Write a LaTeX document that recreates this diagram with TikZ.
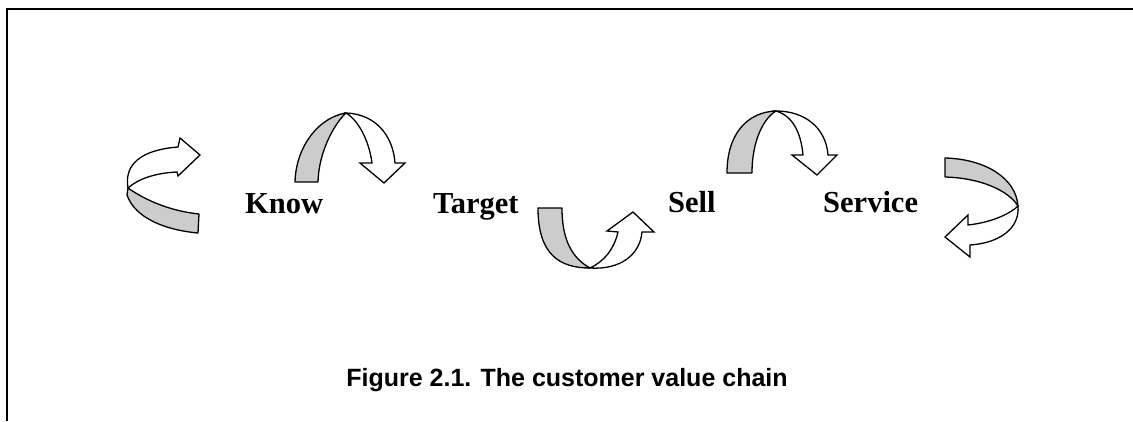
\documentclass[tikz,border=0pt]{standalone}
\usepackage{fontspec}
\setmainfont{Liberation Serif}
\newfontfamily\capfont{Liberation Sans}
\begin{document}
\begin{tikzpicture}[x=1pt,y=-1pt,
  band/.style={draw=black,line width=1.3pt,line join=round,fill=black!20},
  face/.style={draw=black,line width=1.3pt,line join=miter,fill=white},
  stage/.style={font=\fontsize{30.5}{32}\selectfont\bfseries,inner sep=0pt,anchor=base west},
  frameline/.style={line width=2pt}]
\useasboundingbox (0,0) rectangle (1133,421);
\fill[white] (0,0) rectangle (1133,421);

% frame: top and left rules
\coordinate (fTL) at (7,9);
\coordinate (fTR) at (1133,9);
\coordinate (fBL) at (7,421);
\draw[frameline] (fTR) -- (fTL) -- (fBL);

% stage labels
\node[stage] (know) at (245,213) {Know};
\node[stage] (target) at (433,213) {Target};
\node[stage] (sell) at (668,212) {Sell};
\node[stage] (service) at (823,212) {Service};

% caption
\node[font=\capfont\fontsize{25}{27}\selectfont\bfseries,inner sep=0pt,anchor=base]
  (caption) at (567,386) {Figure 2.1. The customer value chain};

% ribbon arrow left of Know (loops round the left, head to the right)
\path[band] (199,214) -- (198,233) .. controls (165,230) and (135,218) .. (127,195)
  -- (128,188) .. controls (145,200) and (170,211) .. (199,214) -- cycle;
\path[face] (128,188) .. controls (124,165) and (140,150) .. (178,147)
  -- (180,138) -- (200,155) -- (178,176) -- (177,172)
  .. controls (155,173) and (138,179) .. (128,188) -- cycle;

% ribbon arrow over Know (arches up, head down)
\path[band] (295,182) .. controls (296,145) and (320,117) .. (346,113)
  .. controls (337,121) and (319,148) .. (318,182) -- cycle;
\path[face] (346,113) .. controls (375,114) and (393,135) .. (395,163)
  -- (405,163) -- (384,183) -- (360,163) -- (372,163)
  .. controls (369,140) and (358,120) .. (346,113) -- cycle;

% ribbon arrow under Target (dips down, head up)
\path[band] (538,208) -- (562,208) .. controls (562,240) and (572,258) .. (590,268)
  .. controls (560,268) and (538,255) .. (538,208) -- cycle;
\path[face] (590,268) .. controls (620,270) and (640,255) .. (642,232)
  -- (654,232) -- (633,212) -- (607,231) -- (618,232)
  .. controls (614,250) and (603,262) .. (590,268) -- cycle;

% ribbon arrow over Sell (arches up, head down)
\path[band] (727,173) .. controls (727,133) and (748,112) .. (776,111)
  .. controls (764,118) and (752,140) .. (752,173) -- cycle;
\path[face] (776,111) .. controls (805,111) and (826,128) .. (828,155)
  -- (837,155) -- (817,175) -- (792,155) -- (803,155)
  .. controls (801,133) and (793,116) .. (776,111) -- cycle;

% ribbon arrow right of Service (loops round the right, head to the left)
\path[band] (945,158) .. controls (985,159) and (1016,178) .. (1018,206)
  .. controls (1008,190) and (980,178) .. (945,177) -- cycle;
\path[face] (1018,206) .. controls (1020,228) and (1000,243) .. (970,245)
  -- (970,257) -- (945,237) -- (968,215) -- (968,225)
  .. controls (995,222) and (1012,212) .. (1018,206) -- cycle;
\end{tikzpicture}
\end{document}
